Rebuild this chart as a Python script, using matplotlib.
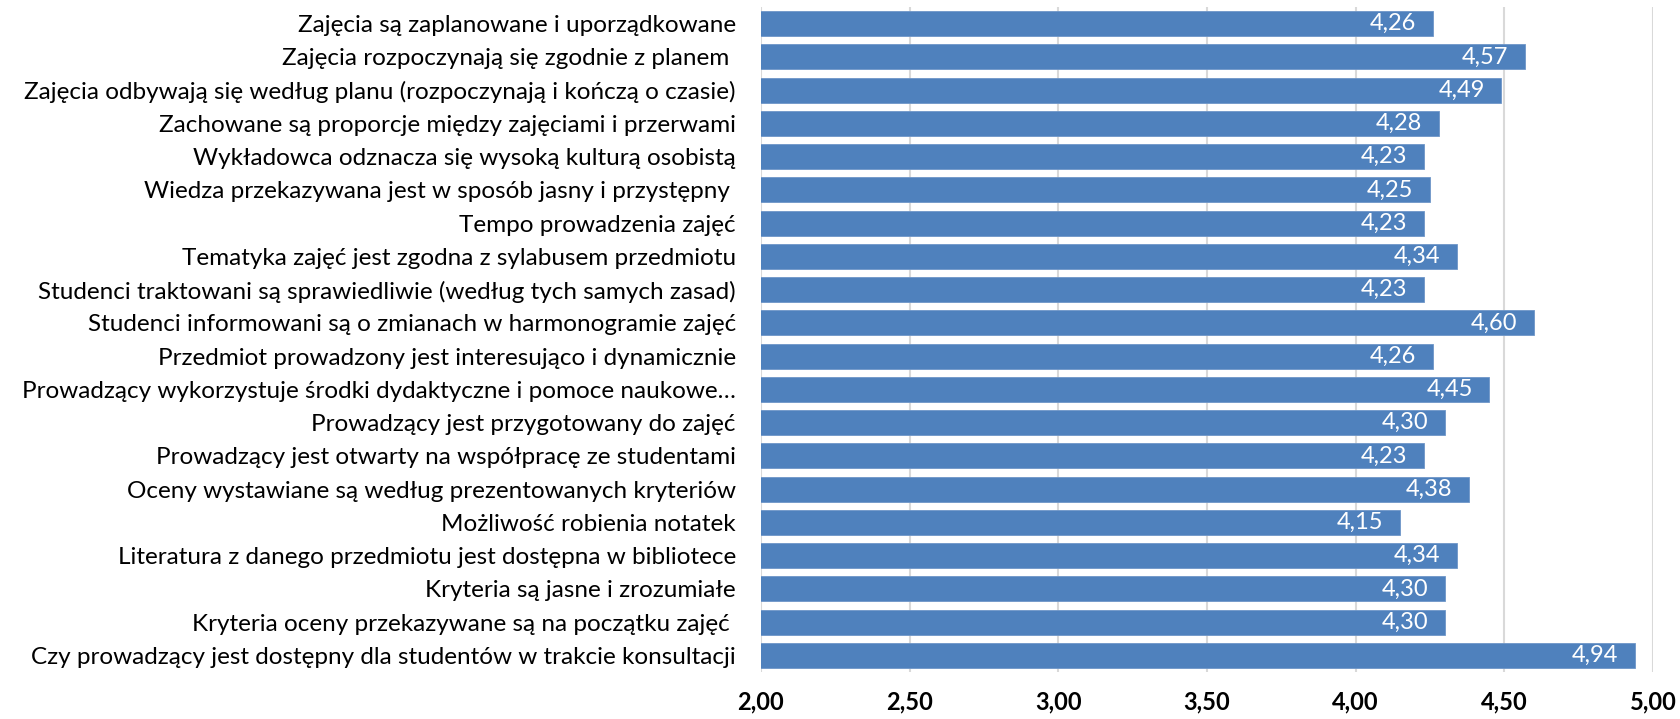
import matplotlib.pyplot as plt

# category labels, top to bottom as in the chart
categories = [
    "Zajęcia są zaplanowane i uporządkowane",
    "Zajęcia rozpoczynają się zgodnie z planem ",
    "Zajęcia odbywają się według planu (rozpoczynają i kończą o czasie)",
    "Zachowane są proporcje między zajęciami i przerwami",
    "Wykładowca odznacza się wysoką kulturą osobistą",
    "Wiedza przekazywana jest w sposób jasny i przystępny ",
    "Tempo prowadzenia zajęć",
    "Tematyka zajęć jest zgodna z sylabusem przedmiotu",
    "Studenci traktowani są sprawiedliwie (według tych samych zasad)",
    "Studenci informowani są o zmianach w harmonogramie zajęć",
    "Przedmiot prowadzony jest interesująco i dynamicznie",
    "Prowadzący wykorzystuje środki dydaktyczne i pomoce naukowe…",
    "Prowadzący jest przygotowany do zajęć",
    "Prowadzący jest otwarty na współpracę ze studentami",
    "Oceny wystawiane są według prezentowanych kryteriów",
    "Możliwość robienia notatek",
    "Literatura z danego przedmiotu jest dostępna w bibliotece",
    "Kryteria są jasne i zrozumiałe",
    "Kryteria oceny przekazywane są na początku zajęć ",
    "Czy prowadzący jest dostępny dla studentów w trakcie konsultacji",
]
scores = [4.26, 4.57, 4.49, 4.28, 4.23, 4.25, 4.23, 4.34, 4.23, 4.60,
          4.26, 4.45, 4.30, 4.23, 4.38, 4.15, 4.34, 4.30, 4.30, 4.94]
x_ticks = [2.0, 2.5, 3.0, 3.5, 4.0, 4.5, 5.0]

FONT = ["Lato", "DejaVu Sans"]
BLUE = "#4F81BD"
GRID = "#D9D9D9"


def fmt(v):
    # polish decimal comma
    return f"{v:.2f}".replace(".", ",")


fig = plt.figure(figsize=(16.81, 7.19), dpi=100)
ax = fig.add_axes([0.4527, 0.0654, 0.5306, 0.9249])

pos = list(range(len(categories)))
bars = ax.barh(pos, scores, height=0.75, color=BLUE, edgecolor="#6E96C8",
               linewidth=0.6, zorder=3)

ax.set_xlim(2.0, 5.0)
ax.set_ylim(len(categories) - 0.5, -0.5)

ax.set_xticks(x_ticks)
ax.set_xticklabels([fmt(t) for t in x_ticks], family=FONT, fontsize=17,
                   fontweight="bold")
ax.set_yticks(pos)
ax.set_yticklabels(categories, family=FONT, fontsize=17.5)
ax.tick_params(axis="x", length=0, pad=13)
ax.tick_params(axis="y", length=0, pad=18)

ax.grid(axis="x", color=GRID, linewidth=1.5, zorder=0)
for s in ["top", "right", "bottom", "left"]:
    ax.spines[s].set_visible(False)

# value labels inside the bar end
for b, v in zip(bars, scores):
    ax.annotate(fmt(v), xy=(v, b.get_y() + b.get_height() / 2),
                xytext=(-12, 0), textcoords="offset points",
                ha="right", va="center", color="white",
                family=FONT, fontsize=17, zorder=4)

fig.savefig("out.png", dpi=100)
